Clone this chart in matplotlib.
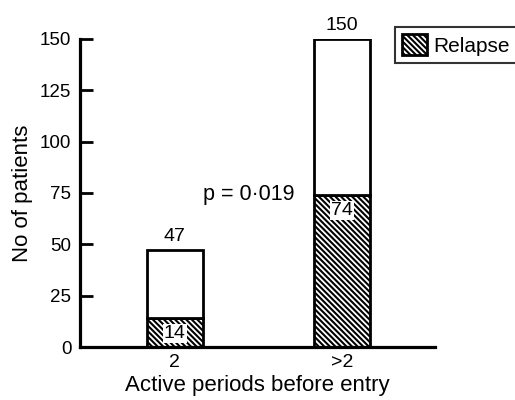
import matplotlib.pyplot as plt
import numpy as np

plt.rcParams['font.family'] = ['Liberation Sans', 'DejaVu Sans']
plt.rcParams['hatch.linewidth'] = 1.5

# Data
groups = ['2', '>2']
totals = [47, 150]
relapse = [14, 74]
p_text = 'p = 0\u00b7019'

x = np.arange(len(groups))
width = 0.335

fig = plt.figure(figsize=(5.15, 4), dpi=100)
ax = fig.add_axes([0.155, 0.1325, 0.69, 0.77])

# Stacked bars: hatched relapse part, white remainder
ax.bar(x, relapse, width, color='white', edgecolor='black', linewidth=2,
       hatch='\\' * 6, label='Relapse', zorder=2)
ax.bar(x, np.array(totals) - np.array(relapse), width, bottom=relapse,
       color='white', edgecolor='black', linewidth=2, zorder=2)

# Totals above bars, relapse counts inside
for xi, t, r in zip(x, totals, relapse):
    ax.text(xi, t + 2.5, str(t), ha='center', va='bottom', fontsize=14,
            clip_on=False)
    ax.text(xi, r - 7.5, str(r), ha='center', va='center', fontsize=14,
            bbox=dict(facecolor='white', edgecolor='none', pad=0.8), zorder=3)

ax.text(0.44, 74.5, p_text, ha='center', va='center', fontsize=15.5)

ax.set_xlim(-0.569, 1.557)
ax.set_ylim(0, 150)
ax.set_yticks([0, 25, 50, 75, 100, 125, 150])
ax.set_xticks(x)
ax.set_xticklabels(groups)
ax.tick_params(axis='y', direction='in', length=9, width=2, labelsize=13.5,
               pad=6)
ax.tick_params(axis='x', length=0, labelsize=14, pad=5)

for s in ['top', 'right']:
    ax.spines[s].set_visible(False)
for s in ['left', 'bottom']:
    ax.spines[s].set_linewidth(2.3)

ax.set_xlabel('Active periods before entry', fontsize=16, labelpad=3)
ax.set_ylabel('No of patients', fontsize=16, labelpad=5)

leg = ax.legend(loc='upper left', bbox_to_anchor=(395 / 515, 1 - 27 / 400),
                bbox_transform=fig.transFigure, fancybox=False,
                edgecolor='black', fontsize=15, handlelength=1.2,
                handleheight=1.15, handletextpad=0.3, borderpad=0.35,
                borderaxespad=0)
leg.get_frame().set_linewidth(1.5)

fig.savefig('out.png', dpi=100)
